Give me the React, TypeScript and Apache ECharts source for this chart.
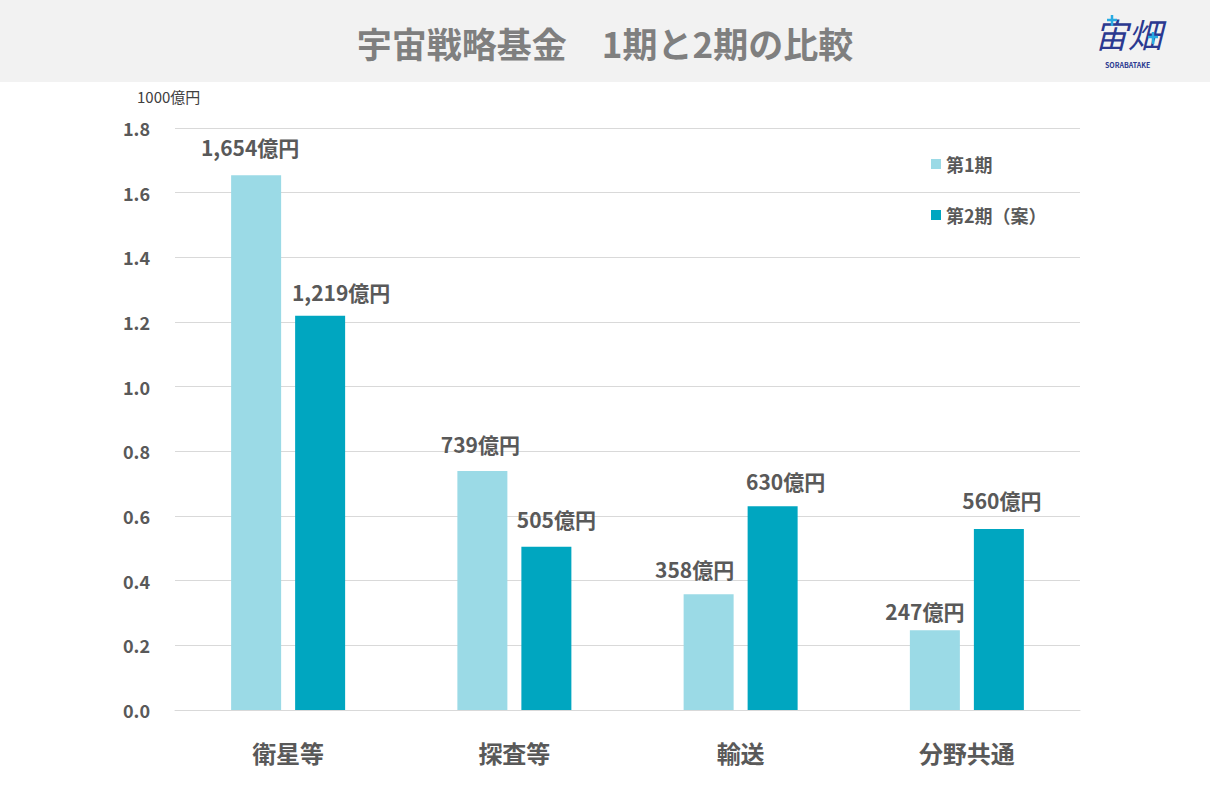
import React, { useEffect, useRef } from "react";
import * as echarts from "echarts";

const categories = ["衛星等", "探査等", "輸送", "分野共通"];
const phase1 = [1654, 739, 358, 247];
const phase2 = [1219, 505, 630, 560];
const seriesNames = ["第1期", "第2期（案）"];
const yTicks = { min: 0, max: 1.8, interval: 0.2 };
const titleText = "宇宙戦略基金　1期と2期の比較";
const unitText = "1000億円";

// manual label nudges (as in the original slide)
const labelNudge1 = [[-6, -3], [-2, -2], [-14, 0], [-10, 6]];
const labelNudge2 = [[21, 2], [10, -2], [13, 0], [3, -3]];

const FONT = "'Noto Sans CJK JP', 'Noto Sans', sans-serif";
const TXT = "#595959";

export default function App() {
  const ref = useRef<HTMLDivElement>(null);
  useEffect(() => {
    document.body.style.margin = "0";
    const chart = echarts.init(ref.current!, null, { renderer: "svg" });
    const fmt = (p: any) => `${Math.round(p.value * 1000).toLocaleString("en-US")}億円`;
    const labelBase = {
      show: true, position: "top", distance: 15, formatter: fmt,
      fontFamily: FONT, fontSize: 21, fontWeight: "bold", color: TXT,
    };
    chart.setOption({
      animation: false,
      backgroundColor: "#ffffff",
      textStyle: { fontFamily: FONT },
      title: {
        text: titleText,
        left: "center",
        top: 20,
        textStyle: { fontFamily: FONT, fontSize: 35, fontWeight: "bold", color: "#7f7f7f" },
      },
      graphic: [
        { type: "rect", z: -10, shape: { x: 0, y: 0, width: 1210, height: 82 }, style: { fill: "#f2f2f2" } },
        {
          type: "text", left: 137, top: 89,
          style: { text: unitText, fontFamily: FONT, fontSize: 15, fill: "#404040" },
        },
        {
          type: "text", x: 1094, y: 16,
          style: { text: "宙畑", fontFamily: FONT, fontSize: 34, fontStyle: "italic", fill: "#2b3990" },
        },
        { type: "line", shape: { x1: 1107, y1: 20, x2: 1117, y2: 20 }, style: { stroke: "#29abe2", lineWidth: 2.5 } },
        { type: "line", shape: { x1: 1112, y1: 15, x2: 1112, y2: 26 }, style: { stroke: "#29abe2", lineWidth: 2.5 } },
        { type: "line", shape: { x1: 1148, y1: 37, x2: 1158, y2: 37 }, style: { stroke: "#29abe2", lineWidth: 2.5 } },
        { type: "line", shape: { x1: 1153, y1: 32, x2: 1153, y2: 44 }, style: { stroke: "#29abe2", lineWidth: 2.5 } },
        {
          type: "text", x: 1105, y: 61,
          style: { text: "SORABATAKE", fontFamily: FONT, fontSize: 7, fontWeight: "bold", fill: "#2b3990" },
        },
      ],
      legend: {
        orient: "vertical",
        left: 926,
        top: 150,
        itemWidth: 10,
        itemHeight: 10,
        itemGap: 33,
        icon: "rect",
        textStyle: { fontFamily: FONT, fontSize: 18, fontWeight: "bold", color: TXT },
        data: seriesNames,
      },
      grid: { left: 175, right: 130, top: 128, bottom: 95, containLabel: false },
      xAxis: {
        type: "category",
        data: categories,
        axisLine: { lineStyle: { color: "#d9d9d9", width: 1 } },
        axisTick: { show: false },
        axisLabel: { fontFamily: FONT, fontSize: 24, fontWeight: "bold", color: TXT, margin: 30 },
      },
      yAxis: {
        type: "value",
        min: yTicks.min,
        max: yTicks.max,
        interval: yTicks.interval,
        axisLine: { show: false },
        axisTick: { show: false },
        splitLine: { lineStyle: { color: "#d9d9d9", width: 1 } },
        axisLabel: {
          fontFamily: FONT, fontSize: 18, fontWeight: "bold", color: TXT, margin: 25,
          formatter: (v: number) => v.toFixed(1),
        },
      },
      series: [
        {
          name: seriesNames[0],
          type: "bar",
          data: phase1.map((v, i) => ({ value: v / 1000, label: { offset: labelNudge1[i] } })),
          barWidth: 50,
          barGap: "28%",
          itemStyle: { color: "#9bdae6" },
          label: labelBase,
        },
        {
          name: seriesNames[1],
          type: "bar",
          data: phase2.map((v, i) => ({ value: v / 1000, label: { offset: labelNudge2[i] } })),
          barWidth: 50,
          itemStyle: { color: "#00a6c0" },
          label: labelBase,
        },
      ],
    });
    return () => chart.dispose();
  }, []);
  return <div ref={ref} style={{ position: "fixed", left: 0, top: 0, width: 1210, height: 805 }} />;
}
